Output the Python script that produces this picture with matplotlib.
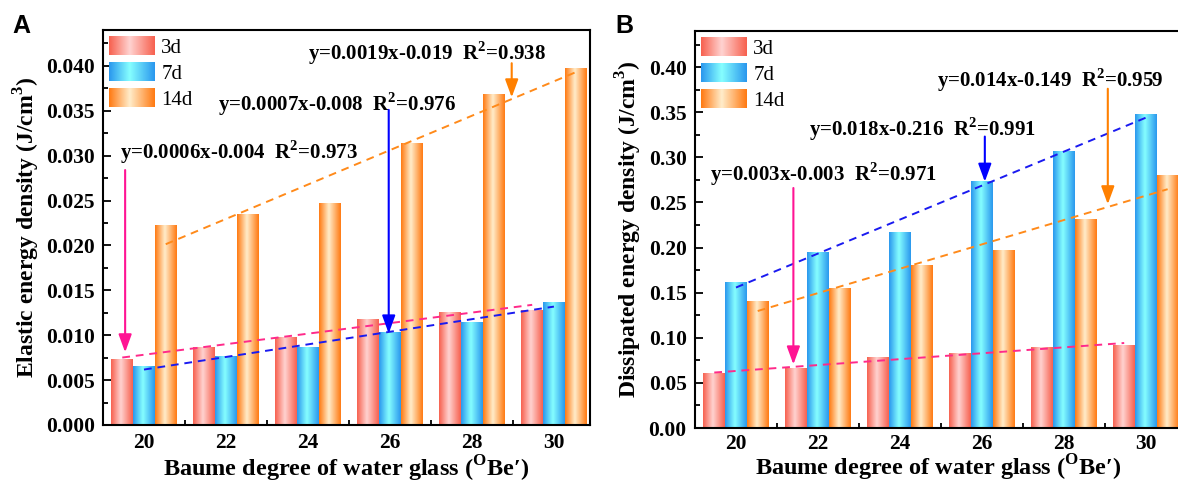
import numpy as np
import matplotlib
matplotlib.use('Agg')
import matplotlib.pyplot as plt
from matplotlib.colors import LinearSegmentedColormap
from matplotlib.legend_handler import HandlerBase
from matplotlib.image import BboxImage
from matplotlib.transforms import Bbox, TransformedBbox
from matplotlib.ticker import MultipleLocator

plt.rcParams['font.family'] = ['Liberation Serif', 'DejaVu Serif']
plt.rcParams['mathtext.fontset'] = 'custom'
plt.rcParams['mathtext.rm'] = 'Liberation Serif'
plt.rcParams['mathtext.bf'] = 'Liberation Serif:bold'

# data
degree = [20, 22, 24, 26, 28, 30]
ages = ['3d', '7d', '14d']

elastic_3d = [0.0073, 0.0086, 0.0098, 0.0117, 0.0125, 0.0128]
elastic_7d = [0.0065, 0.0076, 0.0086, 0.0103, 0.0114, 0.0137]
elastic_14d = [0.0222, 0.0235, 0.0247, 0.0314, 0.0368, 0.0397]

dissip_3d = [0.060, 0.066, 0.078, 0.083, 0.089, 0.091]
dissip_7d = [0.1615, 0.1945, 0.217, 0.273, 0.306, 0.347]
dissip_14d = [0.140, 0.155, 0.180, 0.197, 0.231, 0.280]

eq_elastic = ['y=0.0006x-0.004  R$^{\\mathbf{2}}$=0.973',
              'y=0.0007x-0.008  R$^{\\mathbf{2}}$=0.976',
              'y=0.0019x-0.019  R$^{\\mathbf{2}}$=0.938']
eq_dissip = ['y=0.003x-0.003  R$^{\\mathbf{2}}$=0.971',
             'y=0.018x-0.216  R$^{\\mathbf{2}}$=0.991',
             'y=0.014x-0.149  R$^{\\mathbf{2}}$=0.959']

# gradient look of the bars (edge -> light middle -> edge)
cmaps = [
    LinearSegmentedColormap.from_list('c3', [(0, '#F7614F'), (0.45, '#FFD3D1'), (1, '#F7614F')]),
    LinearSegmentedColormap.from_list('c7', [(0, '#2A98EE'), (0.45, '#86FFFF'), (1, '#2A98EE')]),
    LinearSegmentedColormap.from_list('c14', [(0, '#FF7A12'), (0.45, '#FFEDCB'), (1, '#FF7A12')]),
]
line_cols = ['#FF2A8A', '#1A1AF0', '#FF8A1A']
arrow_cols = ['#FF1493', '#0000FF', '#FF8000']
grad = np.linspace(0, 1, 64).reshape(1, -1)
width = 0.53
offsets = [-width, 0, width]


class GradHandler(HandlerBase):
    def __init__(self, cmap):
        super().__init__()
        self.cmap = cmap

    def create_artists(self, legend, orig_handle, xdescent, ydescent,
                       width, height, fontsize, trans):
        bb = Bbox.from_bounds(-xdescent, -ydescent, width, height)
        img = BboxImage(TransformedBbox(bb, trans), cmap=self.cmap,
                        interpolation='bicubic')
        img.set_data(grad)
        return [img]


def gradient_bars(ax, x, h, cmap):
    bars = ax.bar(x, h, width, color='none', edgecolor='none')
    for b in bars:
        x0 = b.get_x()
        ax.imshow(grad, extent=[x0, x0 + b.get_width(), 0, b.get_height()],
                  aspect='auto', cmap=cmap, zorder=2, interpolation='bicubic')
    return bars


def panel(ax, series, ytop, ymajor, yfmt, ylabel, xpad, tpad):
    x = np.array(degree, dtype=float)
    handles = []
    for i, vals in enumerate(series):
        handles.append(gradient_bars(ax, x + offsets[i], vals, cmaps[i]))
    for i, vals in enumerate(series):
        p = np.polyfit(x, vals, 1)
        xs = np.array([x[0], x[-1]])
        ax.plot(xs + offsets[i], np.polyval(p, xs), ls=(0, (4, 3)),
                color=line_cols[i], lw=1.4, zorder=3)
    ax.set_xlim(19, 30.88)
    ax.set_ylim(0, ytop)
    ax.set_xticks(degree)
    ax.xaxis.set_minor_locator(MultipleLocator(1))
    ax.yaxis.set_major_locator(MultipleLocator(ymajor))
    ax.yaxis.set_minor_locator(MultipleLocator(ymajor / 2))
    ax.yaxis.set_major_formatter(plt.FormatStrFormatter(yfmt))
    ax.tick_params(which='both', direction='in', top=False, right=False,
                   width=1.3)
    ax.tick_params(which='major', length=6, labelsize=15.5, pad=6)
    ax.tick_params(axis='x', which='major', pad=tpad)
    ax.tick_params(which='minor', length=3.5)
    for lab in ax.get_xticklabels() + ax.get_yticklabels():
        lab.set_fontweight('bold')
    for s in ax.spines.values():
        s.set_linewidth(1.5)
    ax.set_xlabel("Baume degree of water glass ($^{\\mathbf{O}}$Be\u2032)",
                  fontsize=17.5, fontweight='bold', labelpad=xpad)
    ax.set_ylabel(ylabel, fontsize=17, fontweight='bold', labelpad=3)
    hm = {h: GradHandler(cmaps[i]) for i, h in enumerate(handles)}
    ax.legend(handles, ages, handler_map=hm, loc='upper left', frameon=False,
              fontsize=15, handlelength=2.2, handleheight=1.0,
              labelspacing=0.22, handletextpad=0.3, borderaxespad=0.1,
              borderpad=0.2)


def note(ax, text, txy, start, tip, col):
    ax.text(txy[0], txy[1], text, fontsize=15, fontweight='bold',
            va='center', ha='left', zorder=5)
    ax.annotate('', xy=tip, xytext=start, zorder=5,
                arrowprops=dict(arrowstyle='-|>,head_length=0.6,head_width=0.22',
                                color=col, lw=1.5, mutation_scale=18,
                                shrinkA=0, shrinkB=0))


fig = plt.figure(figsize=(11.78, 4.82), dpi=100)
axA = fig.add_axes([103 / 1178, 1 - 425 / 482, 487 / 1178, 395 / 482])
axB = fig.add_axes([695 / 1178, 1 - 428 / 482, 487 / 1178, 397 / 482])

panel(axA, [elastic_3d, elastic_7d, elastic_14d], 0.044, 0.005, '%.3f',
      'Elastic energy density (J/cm$^{\\mathbf{3}}$)', 0, 6)
panel(axB, [dissip_3d, dissip_7d, dissip_14d], 0.44, 0.05, '%.2f',
      'Dissipated energy density (J/cm$^{\\mathbf{3}}$)', -1, 4.5)

note(axA, eq_elastic[0], (19.41, 0.0304), (19.54, 0.0284), (19.54, 0.0081), arrow_cols[0])
note(axA, eq_elastic[1], (21.8, 0.0357), (25.97, 0.0351), (25.97, 0.0102), arrow_cols[1])
note(axA, eq_elastic[2], (24.0, 0.0414), (28.97, 0.0403), (28.97, 0.0365), arrow_cols[2])

note(axB, eq_dissip[0], (19.36, 0.281), (21.4, 0.266), (21.4, 0.0705), arrow_cols[0])
note(axB, eq_dissip[1], (21.78, 0.331), (26.07, 0.323), (26.07, 0.273), arrow_cols[1])
note(axB, eq_dissip[2], (24.9, 0.386), (29.07, 0.376), (29.07, 0.248), arrow_cols[2])

fig.text(12 / 1178, 1 - 33 / 482, 'A', fontsize=18, fontweight='bold',
         family='Liberation Sans', va='baseline')
fig.text(615 / 1178, 1 - 33 / 482, 'B', fontsize=18, fontweight='bold',
         family='Liberation Sans', va='baseline')

fig.savefig('out.png', dpi=100)
